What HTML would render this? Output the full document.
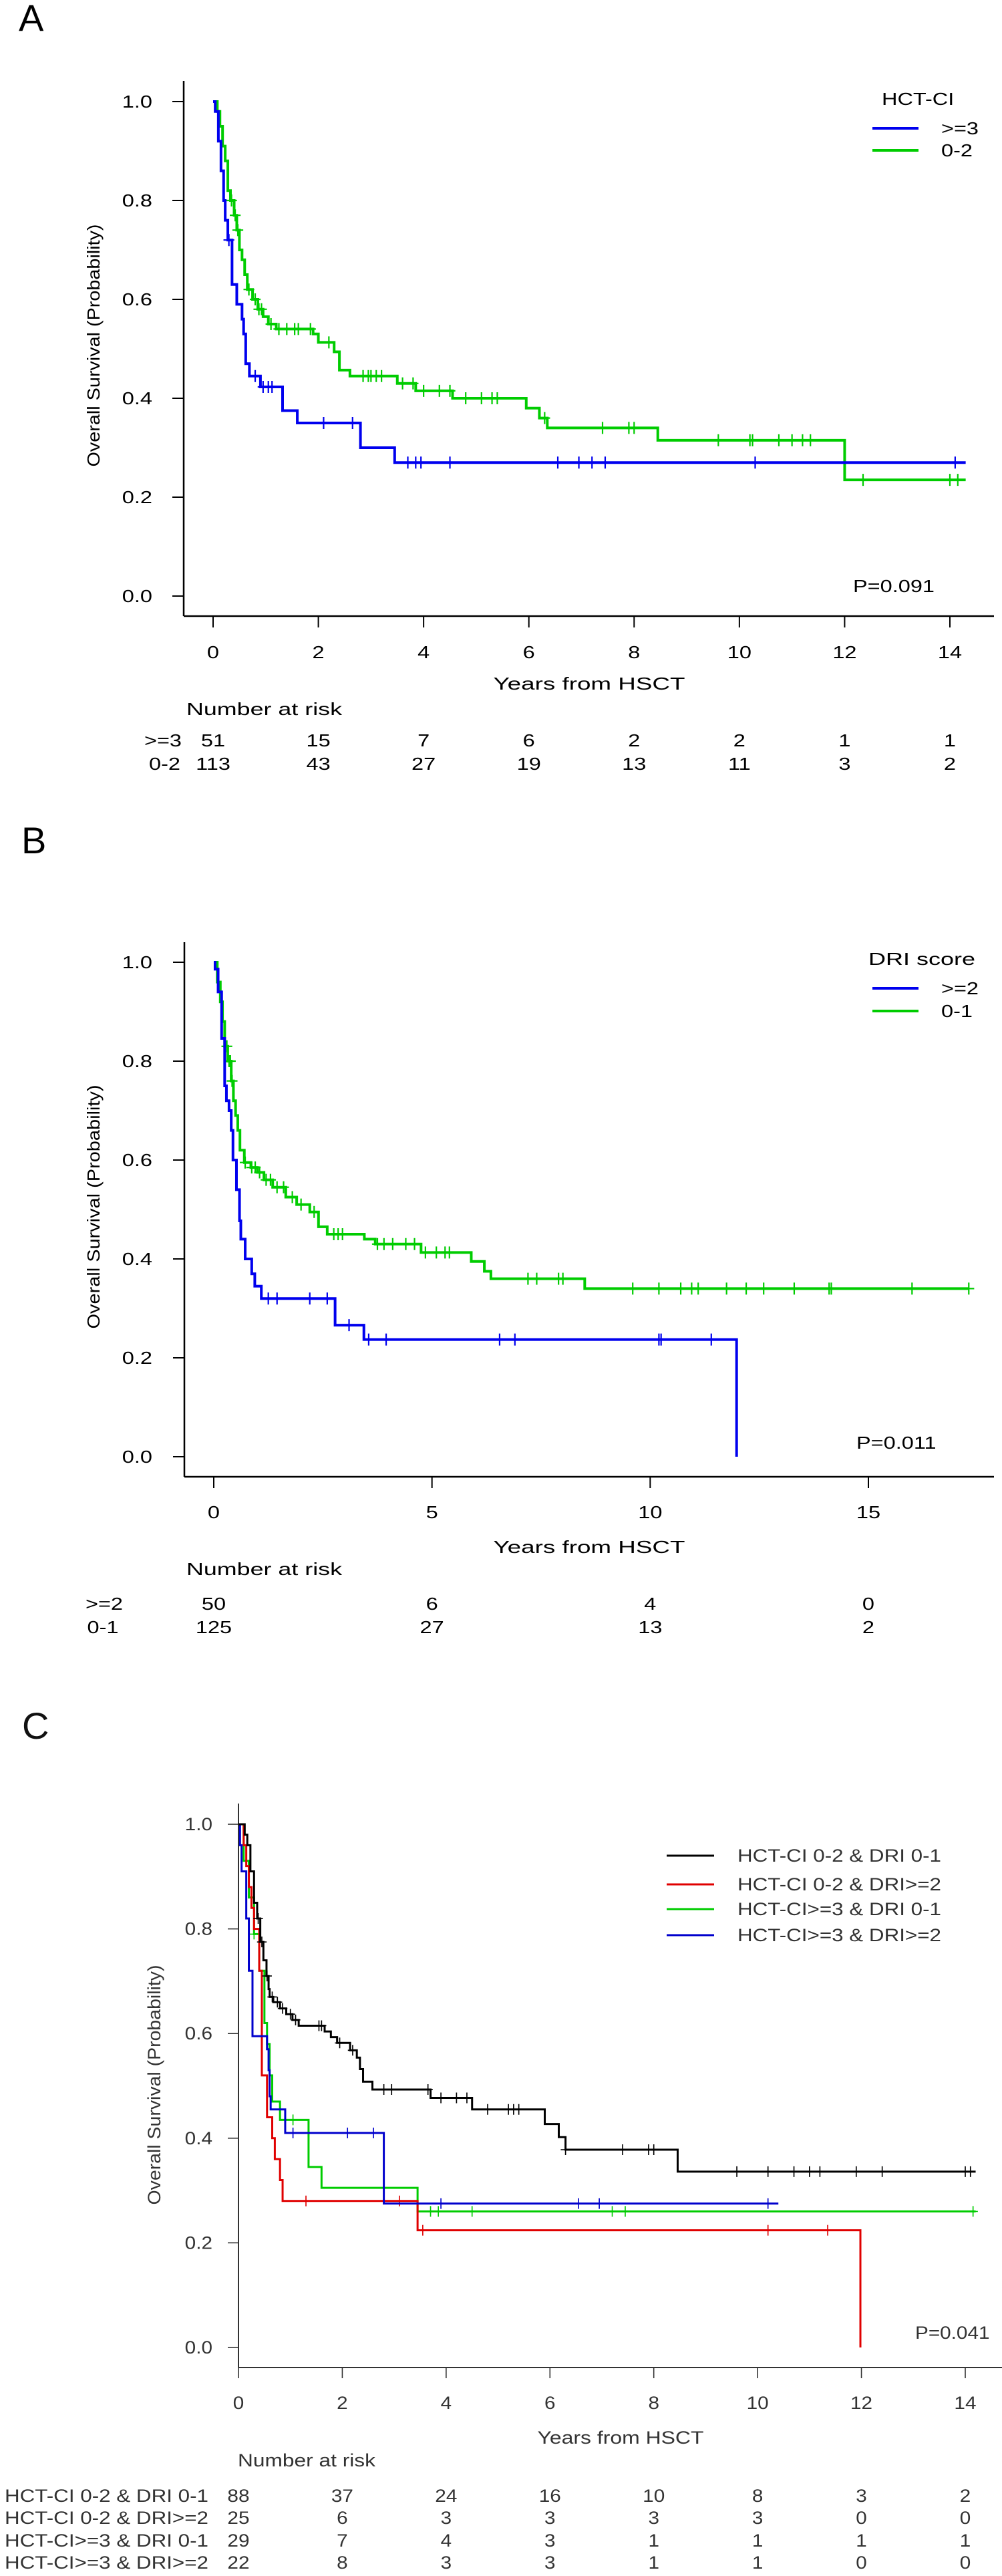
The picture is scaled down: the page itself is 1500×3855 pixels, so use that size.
<!DOCTYPE html>
<html><head><meta charset="utf-8"><style>
html,body{margin:0;padding:0;background:#fff;}
svg{display:block;font-family:"Liberation Sans",Arial,sans-serif;}
.t{font-size:26px;fill:#000;}
.c{font-size:27px;fill:#333;}
</style></head><body>
<svg id="fig" width="1500" height="3855" viewBox="0 0 1500 3855" xmlns="http://www.w3.org/2000/svg">
<rect width="1500" height="3855" fill="#fff"/>
<g id="pa">
 <text x="28" y="46" style="font-size:56px" class="nost">A</text>
 <text class="t" x="1320" y="157">HCT-CI</text>
 <line x1="1306" y1="192" x2="1375" y2="192" stroke="#0000ee" stroke-width="4"/>
 <line x1="1306" y1="225" x2="1375" y2="225" stroke="#00cc00" stroke-width="4"/>
 <text class="t" x="1409" y="201">&gt;=3</text>
 <text class="t" x="1409" y="234">0-2</text>
 <text class="t" x="1277" y="886">P=0.091</text>
 <text class="t" x="149" y="517" transform="rotate(-90 149 517)" text-anchor="middle" textLength="363" lengthAdjust="spacingAndGlyphs">Overall Survival (Probability)</text>
 <text class="t" x="882" y="1032" text-anchor="middle" textLength="287" lengthAdjust="spacingAndGlyphs">Years from HSCT</text>
 <text class="t" x="279" y="1070" textLength="233" lengthAdjust="spacingAndGlyphs">Number at risk</text>
 <text class="t" x="272" y="1117" text-anchor="end">&gt;=3</text>
 <text class="t" x="270" y="1152" text-anchor="end">0-2</text>
</g>
<g id="pb">
 <text x="32" y="1277" style="font-size:56px" class="nost">B</text>
 <text class="t" x="1300" y="1444" textLength="160" lengthAdjust="spacingAndGlyphs">DRI score</text>
 <line x1="1306" y1="1479" x2="1375" y2="1479" stroke="#0000ee" stroke-width="4"/>
 <line x1="1306" y1="1513" x2="1375" y2="1513" stroke="#00cc00" stroke-width="4"/>
 <text class="t" x="1409" y="1488">&gt;=2</text>
 <text class="t" x="1409" y="1522">0-1</text>
 <text class="t" x="1282" y="2168">P=0.011</text>
 <text class="t" x="149" y="1806" transform="rotate(-90 149 1806)" text-anchor="middle" textLength="365" lengthAdjust="spacingAndGlyphs">Overall Survival (Probability)</text>
 <text class="t" x="882" y="2324" text-anchor="middle" textLength="287" lengthAdjust="spacingAndGlyphs">Years from HSCT</text>
 <text class="t" x="279" y="2357" textLength="233" lengthAdjust="spacingAndGlyphs">Number at risk</text>
 <text class="t" x="156" y="2409" text-anchor="middle">&gt;=2</text>
 <text class="t" x="154" y="2444" text-anchor="middle">0-1</text>
</g>
<g id="pc">
 <text x="33" y="2602" style="font-size:56px;fill:#111" class="nost">C</text>
 <line x1="998" y1="2777" x2="1069" y2="2777" stroke="#000" stroke-width="3"/>
 <line x1="998" y1="2820" x2="1069" y2="2820" stroke="#e00000" stroke-width="3"/>
 <line x1="998" y1="2857" x2="1069" y2="2857" stroke="#00cc00" stroke-width="3"/>
 <line x1="998" y1="2896" x2="1069" y2="2896" stroke="#0000cc" stroke-width="3"/>
 <text class="c" x="1104" y="2786" textLength="305" lengthAdjust="spacingAndGlyphs">HCT-CI 0-2 &amp; DRI 0-1</text>
 <text class="c" x="1104" y="2829" textLength="305" lengthAdjust="spacingAndGlyphs">HCT-CI 0-2 &amp; DRI&gt;=2</text>
 <text class="c" x="1104" y="2866" textLength="305" lengthAdjust="spacingAndGlyphs">HCT-CI&gt;=3 &amp; DRI 0-1</text>
 <text class="c" x="1104" y="2905" textLength="305" lengthAdjust="spacingAndGlyphs">HCT-CI&gt;=3 &amp; DRI&gt;=2</text>
 <text class="c" x="1370" y="3500">P=0.041</text>
 <text class="c" x="240" y="3120" transform="rotate(-90 240 3120)" text-anchor="middle" textLength="359" lengthAdjust="spacingAndGlyphs">Overall Survival (Probability)</text>
 <text class="c" x="929" y="3657" text-anchor="middle" textLength="249" lengthAdjust="spacingAndGlyphs">Years from HSCT</text>
 <text class="c" x="356" y="3691" textLength="206" lengthAdjust="spacingAndGlyphs">Number at risk</text>
 <text class="c" x="7" y="3744" textLength="305" lengthAdjust="spacingAndGlyphs">HCT-CI 0-2 &amp; DRI 0-1</text>
 <text class="c" x="7" y="3777" textLength="305" lengthAdjust="spacingAndGlyphs">HCT-CI 0-2 &amp; DRI&gt;=2</text>
 <text class="c" x="7" y="3811" textLength="305" lengthAdjust="spacingAndGlyphs">HCT-CI&gt;=3 &amp; DRI 0-1</text>
 <text class="c" x="7" y="3844" textLength="305" lengthAdjust="spacingAndGlyphs">HCT-CI&gt;=3 &amp; DRI&gt;=2</text>
</g>
</svg>
<script>
// ---------- Panel A data ----------
const aXTicks = [0,2,4,6,8,10,12,14];
const aYTicks = ["0.0","0.2","0.4","0.6","0.8","1.0"];
const aBlueT = [0,0.04,0.1,0.15,0.2,0.23,0.28,0.36,0.45,0.55,0.58,0.62,0.69,0.9,1.32,1.6,2.8,3.45];
const aBlueS = [1,0.98,0.92,0.86,0.80,0.76,0.72,0.63,0.59,0.56,0.53,0.47,0.445,0.423,0.375,0.35,0.30,0.27];
const aBlueCens = [0.3,0.8,0.95,1.05,1.12,2.1,2.65,3.7,3.85,3.95,4.5,6.55,6.95,7.2,7.45,10.3,14.1];
const aBlueEnd = 14.3;
const aGreenT = [0,0.08,0.13,0.18,0.23,0.28,0.33,0.4,0.45,0.5,0.55,0.6,0.65,0.75,0.85,0.95,1.05,1.2,1.9,2.0,2.3,2.4,2.6,3.5,3.85,4.55,5.95,6.2,6.35,8.45,12.0];
const aGreenS = [1,0.98,0.95,0.91,0.88,0.82,0.80,0.77,0.74,0.70,0.68,0.65,0.62,0.60,0.58,0.565,0.55,0.54,0.53,0.513,0.494,0.457,0.445,0.43,0.415,0.40,0.38,0.36,0.34,0.315,0.235];
const aGreenCens = [0.35,0.42,0.47,0.68,0.8,0.87,0.92,1.1,1.25,1.4,1.55,1.62,1.85,2.2,2.85,2.95,3.0,3.1,3.2,3.6,3.8,4.0,4.3,4.5,4.8,5.1,5.3,5.4,6.3,7.4,7.9,8.0,9.6,10.2,10.25,10.75,11.0,11.2,11.35,12.35,14.0,14.15];
const aGreenEnd = 14.3;
const aRiskBlue = [51,15,7,6,2,2,1,1];
const aRiskGreen = [113,43,27,19,13,11,3,2];
// ---------- Panel B data ----------
const bXTicks = [0,5,10,15];
const bYTicks = ["0.0","0.2","0.4","0.6","0.8","1.0"];
const bBlueT = [0,0.03,0.1,0.18,0.25,0.29,0.35,0.4,0.44,0.52,0.59,0.62,0.72,0.87,0.94,1.09,2.78,3.44,11.98];
const bBlueS = [1,0.986,0.94,0.846,0.75,0.72,0.70,0.66,0.60,0.54,0.477,0.44,0.40,0.37,0.345,0.32,0.266,0.237,0];
const bBlueCens = [1.25,1.45,2.2,2.6,3.1,3.55,3.95,6.55,6.9,10.2,10.25,11.4];
const bBlueEnd = 11.98;
const bGreenT = [0,0.08,0.15,0.2,0.25,0.32,0.4,0.45,0.5,0.55,0.6,0.7,0.85,1.0,1.15,1.35,1.65,1.9,2.2,2.4,2.6,3.45,3.7,4.75,5.9,6.2,6.35,8.5];
const bGreenS = [1,0.96,0.92,0.88,0.83,0.80,0.76,0.72,0.69,0.66,0.62,0.595,0.585,0.575,0.56,0.545,0.525,0.51,0.495,0.465,0.45,0.44,0.43,0.413,0.395,0.375,0.36,0.34];
const bGreenCens = [0.3,0.35,0.38,0.42,0.72,0.87,0.95,1.05,1.2,1.3,1.45,1.6,1.8,2.0,2.3,2.75,2.85,2.95,3.75,3.9,4.1,4.4,4.6,4.85,5.1,5.3,5.4,7.2,7.4,7.9,8.0,9.6,10.2,10.7,10.95,11.1,11.75,12.2,12.6,13.3,14.1,14.15,16.0,17.3];
const bGreenEnd = 17.3;
const bRiskBlue = [50,6,4,0];
const bRiskGreen = [125,27,13,2];
// ---------- Panel C data ----------
const cXTicks = [0,2,4,6,8,10,12,14];
const cYTicks = ["0.0","0.2","0.4","0.6","0.8","1.0"];
const cBlackT = [0,0.12,0.17,0.23,0.3,0.36,0.42,0.48,0.54,0.58,0.6,0.67,0.8,0.92,1.04,1.16,1.66,1.78,1.9,2.15,2.28,2.34,2.4,2.58,3.7,4.5,5.9,6.17,6.3,8.46];
const cBlackS = [1,0.98,0.96,0.91,0.85,0.82,0.775,0.74,0.71,0.685,0.67,0.66,0.648,0.637,0.626,0.615,0.604,0.593,0.582,0.568,0.554,0.532,0.508,0.493,0.477,0.455,0.427,0.402,0.378,0.336];
const cBlackCens = [0.38,0.45,0.55,0.65,0.75,0.85,1.0,1.1,1.55,1.6,1.95,2.2,2.8,2.95,3.65,3.9,4.2,4.4,4.8,5.2,5.3,5.4,6.3,7.4,7.9,8.0,9.6,10.2,10.7,11.0,11.2,11.9,12.4,14.0,14.1];
const cBlackEnd = 14.2;
const cRedT = [0,0.1,0.15,0.2,0.25,0.3,0.4,0.45,0.55,0.65,0.7,0.8,0.85,3.45,11.98];
const cRedS = [1,0.96,0.92,0.88,0.84,0.8,0.72,0.52,0.44,0.40,0.36,0.32,0.28,0.224,0];
const cRedCens = [1.3,3.1,3.55,10.2,11.35];
const cRedEnd = 11.98;
const cGreenT = [0,0.1,0.2,0.3,0.4,0.5,0.55,0.6,0.65,0.8,1.35,1.6,3.45];
const cGreenS = [1,0.93,0.86,0.79,0.72,0.62,0.58,0.52,0.47,0.435,0.345,0.305,0.26];
const cGreenCens = [0.3,1.05,3.7,3.85,4.5,7.2,7.45,14.15];
const cGreenEnd = 14.2;
const cBlueT = [0,0.03,0.06,0.15,0.2,0.27,0.55,0.58,0.6,0.62,0.9,2.8];
const cBlueS = [1,0.96,0.91,0.82,0.72,0.595,0.57,0.53,0.48,0.455,0.41,0.275];
const cBlueCens = [1.05,2.1,2.6,3.9,6.55,6.95,10.2];
const cBlueEnd = 10.4;
const cRisk1 = [88,37,24,16,10,8,3,2];
const cRisk2 = [25,6,3,3,3,3,0,0];
const cRisk3 = [29,7,4,3,1,1,1,1];
const cRisk4 = [22,8,3,3,1,1,0,0];

const NS = "http://www.w3.org/2000/svg";
function mk(tag, attrs, parent){
  const e = document.createElementNS(NS, tag);
  for (const k in attrs) e.setAttribute(k, attrs[k]);
  parent.appendChild(e);
  return e;
}
function makeAxes(cfg){
  return {
    x: t => cfg.x0 + t * (cfg.x1 - cfg.x0) / cfg.tMax,
    y: s => cfg.y0 + (1 - s) * (cfg.y1 - cfg.y0)
  };
}
function drawAxes(g, cfg, ax, xTicks, yTicks){
  const st = cfg.axisColor;
  const yl = mk('line',{x1:cfg.axX,y1:cfg.axTop,x2:cfg.axX,y2:cfg.axBot,stroke:st,'stroke-width':cfg.axW},g);
  
  
  const xl = mk('line',{x1:cfg.axX,y1:cfg.axBot,x2:cfg.axRight,y2:cfg.axBot,stroke:st,'stroke-width':cfg.axW},g);
  
  
  yTicks.forEach(lbl => {
    const v = parseFloat(lbl), yy = ax.y(v);
    const tk = mk('line',{x1:cfg.axX-cfg.tickL,y1:yy,x2:cfg.axX,y2:yy,stroke:st,'stroke-width':cfg.axW*0.8},g);
    
    
    const tx = mk('text',{x:cfg.yLabX,y:yy+9,'text-anchor':'end','class':cfg.cls},g);
    tx.textContent = lbl;
    
    
  });
  xTicks.forEach(v => {
    const xx = ax.x(v);
    const tk = mk('line',{x1:xx,y1:cfg.axBot,x2:xx,y2:cfg.axBot+cfg.tickL,stroke:st,'stroke-width':cfg.axW*0.8},g);
    
    
    const tx = mk('text',{x:xx,y:cfg.xLabY,'text-anchor':'middle','class':cfg.cls},g);
    tx.textContent = String(v);
    
    
  });
}
function stepAt(T, S, t){
  let s = S[0];
  for (let i = 0; i < T.length; i++) if (T[i] <= t) s = S[i];
  return s;
}
function drawCurve(g, ax, T, S, cens, tEnd, color, w, name, mark){
  let d = 'M' + ax.x(T[0]) + ' ' + ax.y(S[0]);
  for (let i = 1; i < T.length; i++){
    d += ' H' + ax.x(T[i]) + ' V' + ax.y(S[i]);
  }
  d += ' H' + ax.x(tEnd);
  const p = mk('path',{d:d,fill:'none',stroke:color,'stroke-width':w,'stroke-linejoin':'miter'},g);
  
  
  cens.forEach(t => {
    const xx = ax.x(t), yy = ax.y(stepAt(T, S, t));
    const c = mk('path',{d:'M'+xx+' '+(yy-mark)+' V'+(yy+mark)+' M'+(xx-mark*0.9)+' '+yy+' H'+(xx+mark*0.9),stroke:color,'stroke-width':w*0.55,fill:'none'},g);
    
    
  });
}
function drawRisk(g, ax, ticks, vals, y, cls, name){
  vals.forEach((v, i) => {
    const tx = mk('text',{x:ax.x(ticks[i]),y:y,'text-anchor':'middle','class':cls},g);
    tx.textContent = String(v);
    
    
  });
}

// Panel A
const cfgA = {p:'panel-a',x0:319,x1:1422,tMax:14,y0:152,y1:892,axX:275,axTop:121,axBot:922,axRight:1488,tickL:17,axW:2.5,axisColor:'#000',yLabX:228,xLabY:985,cls:'t'};
const axA = makeAxes(cfgA);
const gA = document.getElementById('pa');
drawAxes(gA, cfgA, axA, aXTicks, aYTicks);
drawCurve(gA, axA, aGreenT, aGreenS, aGreenCens, aGreenEnd, '#00cc00', 4, 'a-hctci-0-2', 9);
drawCurve(gA, axA, aBlueT, aBlueS, aBlueCens, aBlueEnd, '#0000ee', 4, 'a-hctci-ge3', 9);
drawRisk(gA, axA, aXTicks, aRiskBlue, 1117, 't', 'risk-a-ge3');
drawRisk(gA, axA, aXTicks, aRiskGreen, 1152, 't', 'risk-a-0-2');

// Panel B
const cfgB = {p:'panel-b',x0:320,x1:1300,tMax:15,y0:1440,y1:2180,axX:276,axTop:1410,axBot:2210,axRight:1488,tickL:17,axW:2.5,axisColor:'#000',yLabX:228,xLabY:2272,cls:'t'};
const axB = makeAxes(cfgB);
const gB = document.getElementById('pb');
drawAxes(gB, cfgB, axB, bXTicks, bYTicks);
drawCurve(gB, axB, bGreenT, bGreenS, bGreenCens, bGreenEnd, '#00cc00', 4, 'b-dri-0-1', 9);
drawCurve(gB, axB, bBlueT, bBlueS, bBlueCens, bBlueEnd, '#0000ee', 4, 'b-dri-ge2', 9);
drawRisk(gB, axB, bXTicks, bRiskBlue, 2409, 't', 'risk-b-ge2');
drawRisk(gB, axB, bXTicks, bRiskGreen, 2444, 't', 'risk-b-0-1');

// Panel C
const cfgC = {p:'panel-c',x0:357,x1:1445,tMax:14,y0:2730,y1:3513,axX:357,axTop:2699,axBot:3543,axRight:1500,tickL:16,axW:2,axisColor:'#333',yLabX:318,xLabY:3605,cls:'c'};
const axC = makeAxes(cfgC);
const gC = document.getElementById('pc');
drawAxes(gC, cfgC, axC, cXTicks, cYTicks);
drawCurve(gC, axC, cGreenT, cGreenS, cGreenCens, cGreenEnd, '#00cc00', 3, 'c-hctci-ge3-dri-0-1', 8);
drawCurve(gC, axC, cRedT, cRedS, cRedCens, cRedEnd, '#e00000', 3, 'c-hctci-0-2-dri-ge2', 8);
drawCurve(gC, axC, cBlueT, cBlueS, cBlueCens, cBlueEnd, '#0000cc', 3, 'c-hctci-ge3-dri-ge2', 8);
drawCurve(gC, axC, cBlackT, cBlackS, cBlackCens, cBlackEnd, '#000', 3, 'c-hctci-0-2-dri-0-1', 8);
drawRisk(gC, axC, cXTicks, cRisk1, 3744, 'c', 'risk-c-1');
drawRisk(gC, axC, cXTicks, cRisk2, 3777, 'c', 'risk-c-2');
drawRisk(gC, axC, cXTicks, cRisk3, 3811, 'c', 'risk-c-3');
drawRisk(gC, axC, cXTicks, cRisk4, 3844, 'c', 'risk-c-4');

// Reference text is horizontally wide: stretch texts lacking an explicit length
[['pa',1.25],['pb',1.25],['pc',1.1]].forEach(([id, f]) => {
  document.getElementById(id).querySelectorAll('text').forEach(t => {
    if (t.hasAttribute('textLength') || t.classList.contains('nost')) return;
    const L = t.getComputedTextLength();
    if (L > 0){
      t.setAttribute('textLength', (L * f).toFixed(1));
      t.setAttribute('lengthAdjust', 'spacingAndGlyphs');
    }
  });
});
</script>
</body></html>
